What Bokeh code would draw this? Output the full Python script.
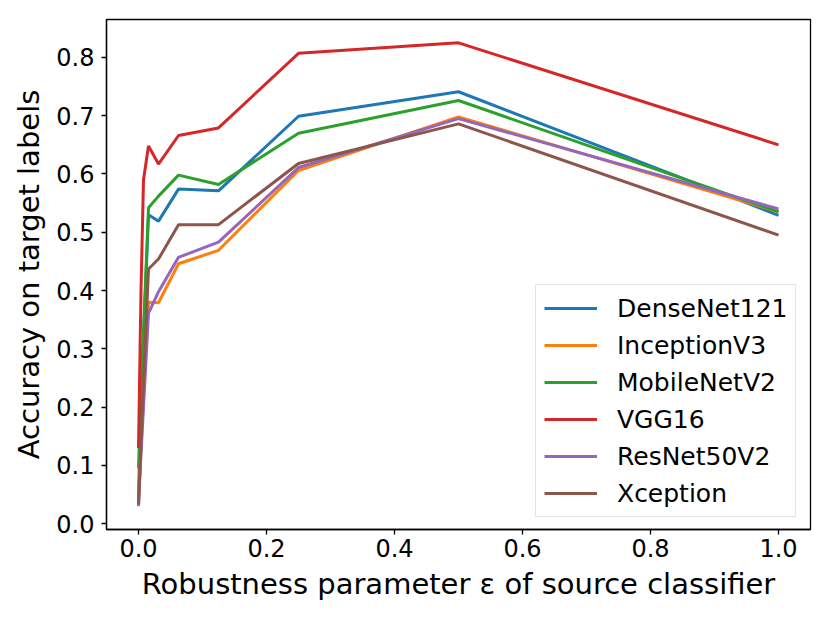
from bokeh.plotting import figure
from bokeh.models import Range1d, FixedTicker, Legend, LegendItem, NumeralTickFormatter
from bokeh.embed import file_html
from bokeh.resources import INLINE

eps = [0, 1/256, 1/128, 1/64, 1/32, 1/16, 1/8, 1/4, 1/2, 1]
densenet121 = [0.05, 0.20, 0.32, 0.530, 0.519, 0.574, 0.571, 0.699, 0.741, 0.529]
inceptionv3 = [0.04, 0.13, 0.22, 0.380, 0.379, 0.446, 0.469, 0.606, 0.698, 0.535]
mobilenetv2 = [0.095, 0.22, 0.33, 0.542, 0.562, 0.598, 0.582, 0.670, 0.726, 0.535]
vgg16 = [0.13, 0.40, 0.59, 0.648, 0.617, 0.666, 0.679, 0.807, 0.825, 0.650]
resnet50v2 = [0.03, 0.12, 0.20, 0.361, 0.398, 0.457, 0.483, 0.611, 0.695, 0.540]
xception = [0.033, 0.14, 0.24, 0.437, 0.454, 0.513, 0.513, 0.618, 0.686, 0.495]

names = ["DenseNet121", "InceptionV3", "MobileNetV2", "VGG16", "ResNet50V2", "Xception"]
series = [densenet121, inceptionv3, mobilenetv2, vgg16, resnet50v2, xception]
colors = ["#1f77b4", "#ff7f0e", "#2ca02c", "#d62728", "#9467bd", "#8c564b"]
x_ticks = [0.0, 0.2, 0.4, 0.6, 0.8, 1.0]
y_ticks = [0.0, 0.1, 0.2, 0.3, 0.4, 0.5, 0.6, 0.7, 0.8]

FONT = "DejaVu Sans"

p = figure(width=822, height=615, output_backend="svg", toolbar_location=None,
           x_range=Range1d(-0.05, 1.05), y_range=Range1d(-0.01, 0.865),
           min_border_left=106, min_border_right=12, min_border_top=19, min_border_bottom=86)
p.grid.visible = False
p.outline_line_color = "black"
p.outline_line_width = 1.3
p.background_fill_color = "white"
p.border_fill_color = "white"

items = []
for name, ys, c in zip(names, series, colors):
    r = p.line(eps, ys, line_color=c, line_width=3)
    items.append(LegendItem(label=name, renderers=[r]))

for ax in (p.xaxis[0], p.yaxis[0]):
    ax.axis_line_color = "black"
    ax.axis_line_width = 1.3
    ax.major_tick_line_color = "black"
    ax.major_tick_line_width = 1.3
    ax.major_tick_out = 5
    ax.major_tick_in = 0
    ax.minor_tick_out = 0
    ax.minor_tick_in = 0
    ax.major_label_text_font = FONT
    ax.major_label_text_font_size = "24px"
    ax.major_label_text_color = "black"
    ax.axis_label_text_font = FONT
    ax.axis_label_text_font_size = "29px"
    ax.axis_label_text_font_style = "normal"
    ax.axis_label_text_color = "black"
    ax.formatter = NumeralTickFormatter(format="0.0")

p.xaxis[0].ticker = FixedTicker(ticks=x_ticks)
p.yaxis[0].ticker = FixedTicker(ticks=y_ticks)
p.xaxis[0].axis_label = "Robustness parameter ε of source classifier"
p.yaxis[0].axis_label = "Accuracy on target labels"
p.xaxis[0].major_label_standoff = 4
p.yaxis[0].major_label_standoff = 7
p.xaxis[0].axis_label_standoff = 7
p.yaxis[0].axis_label_standoff = 7

legend = Legend(items=items, location=(429, 12), margin=0, padding=8,
                spacing=7, label_height=30, glyph_height=30, glyph_width=53,
                label_standoff=20, label_text_font=FONT, label_text_font_size="25px",
                label_text_color="black", border_line_color="#cccccc", border_line_width=1.3,
                background_fill_color="white", background_fill_alpha=0.8)
p.add_layout(legend, "center")

open("out.html", "w").write(file_html(p, INLINE))
